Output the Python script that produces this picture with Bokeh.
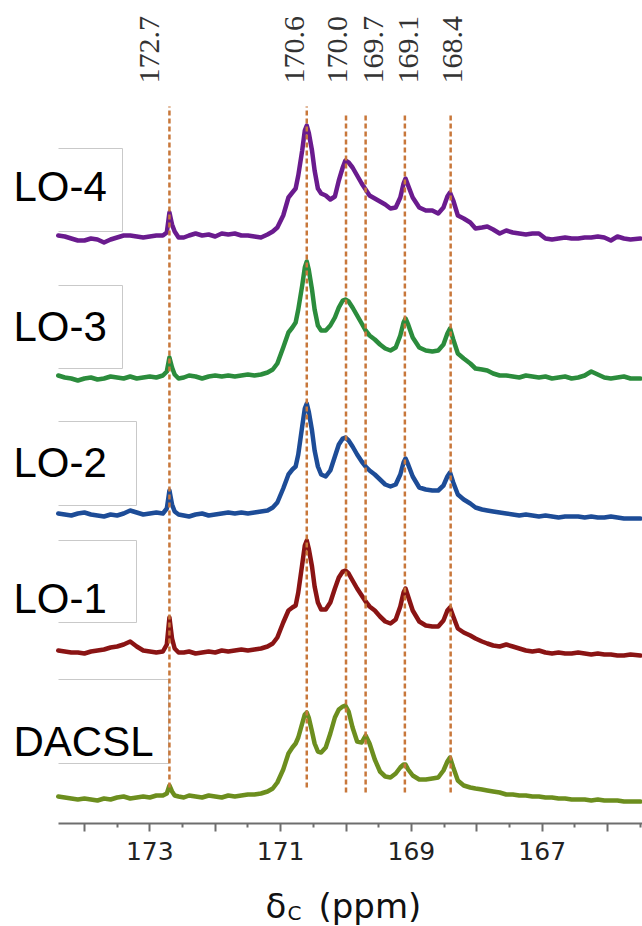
import numpy as np
from bokeh.plotting import figure
from bokeh.layouts import column
from bokeh.models import ColumnDataSource, FixedTicker, Range1d
from bokeh.embed import file_html
from bokeh.resources import INLINE
from bokeh.core.properties import value

# ---------------- data ----------------
peak_ppm = [172.7, 170.6, 170.0, 169.7, 169.1, 168.4]
peak_text = ["172.7", "170.6", "170.0", "169.7", "169.1", "168.4"]
sample_names = ["LO-4", "LO-3", "LO-2", "LO-1", "DACSL"]

ppm = [174.40, 174.30, 174.20, 174.10, 174.00, 173.90, 173.80, 173.70, 173.60, 173.50,
       173.40, 173.30, 173.20, 173.10, 173.00, 172.90, 172.80, 172.74, 172.70, 172.66,
       172.62, 172.56, 172.48, 172.40, 172.30, 172.20, 172.10, 172.00, 171.90, 171.80,
       171.70, 171.60, 171.50, 171.40, 171.30, 171.20, 171.12, 171.05, 170.96, 170.88,
       170.82, 170.77, 170.73, 170.67, 170.63, 170.60, 170.57, 170.52, 170.48, 170.43,
       170.38, 170.31, 170.24, 170.17, 170.11, 170.05, 170.01, 169.96, 169.90, 169.83,
       169.76, 169.70, 169.64, 169.56, 169.48, 169.40, 169.32, 169.24, 169.17, 169.12,
       169.09, 169.05, 168.98, 168.88, 168.78, 168.68, 168.59, 168.51, 168.45, 168.41,
       168.36, 168.29, 168.20, 168.10, 168.02, 167.92, 167.84, 167.75, 167.65, 167.55,
       167.45, 167.35, 167.25, 167.15, 167.05, 166.95, 166.85, 166.75, 166.65, 166.55,
       166.45, 166.35, 166.25, 166.15, 166.05, 165.95, 165.85, 165.75, 165.65, 165.50]

lo4 = [1, 0, -2, -4, -4, -2, -3, -6, -3, -1,
       1, 1, 0, -1, 0, 1, 1, 4, 24, 12,
       5, -1, -1, 1, 3, 1, 2, 0, 3, 2,
       3, 1, 1, 0, -1, 2, 5, 9, 21, 39,
       44, 48, 61, 86, 106, 111, 104, 86, 66, 48,
       43, 41, 37, 40, 56, 69, 76, 74, 69, 61,
       53, 47, 41, 38, 35, 32, 28, 29, 39, 53,
       58, 51, 39, 29, 26, 26, 23, 29, 40, 44,
       36, 21, 18, 14, 8, 9, 10, 7, 3, 6,
       4, 3, 2, 3, 3, -2, -3, -2, -1, -2,
       -2, -1, -1, 0, -1, -4, 0, -2, -3, -2]
lo3 = [2, 0, -1, -3, -1, 0, -2, -1, 1, 0,
       -1, 1, -1, 0, 1, 0, 2, 6, 20, 10,
       3, -1, 0, 2, 1, -1, 1, 2, 1, 2,
       1, 2, 3, 2, 3, 5, 8, 14, 30, 45,
       50, 55, 68, 92, 110, 116, 108, 88, 68, 52,
       47, 47, 52, 60, 70, 77, 78, 76, 70, 62,
       54, 47, 42, 38, 33, 29, 27, 30, 42, 55,
       59, 53, 40, 30, 27, 26, 27, 33, 44, 49,
       38, 24, 19, 14, 9, 8, 7, 4, 2, 2,
       1, 0, 2, 1, 0, 1, -1, 0, 1, -1,
       0, 2, 6, 3, 0, -1, 0, 1, -1, -1]
lo2 = [1, 0, -1, 1, 2, 0, -1, -2, 0, -1,
       1, 4, 2, 0, 1, 2, 1, 6, 24, 10,
       3, 0, -1, -2, 0, 1, -1, 0, 1, 2,
       1, 2, 1, 2, 3, 4, 7, 12, 26, 40,
       45, 48, 60, 88, 106, 111, 103, 84, 64, 48,
       40, 38, 44, 58, 70, 76, 77, 74, 68, 60,
       53, 48, 44, 40, 35, 30, 28, 30, 40, 52,
       56, 50, 38, 27, 25, 24, 24, 29, 38, 42,
       32, 20, 15, 11, 7, 5, 4, 3, 2, 1,
       0, -1, 0, -1, -2, -1, -2, -3, -2, -2,
       -2, -3, -2, -3, -3, -2, -3, -4, -4, -4]
lo1 = [2, 1, 0, 0, -1, 1, 2, 3, 5, 6,
       8, 11, 6, 2, 1, 0, 1, 8, 35, 14,
       4, 0, 0, 1, -1, 0, 1, 0, 2, 1,
       2, 3, 2, 3, 4, 6, 9, 15, 30, 42,
       45, 47, 60, 88, 107, 112, 104, 86, 66, 50,
       43, 43, 50, 64, 75, 81, 82, 79, 72, 64,
       57, 51, 46, 42, 36, 31, 29, 33, 46, 60,
       64, 56, 42, 31, 27, 26, 26, 32, 42, 45,
       36, 24, 20, 17, 14, 11, 9, 7, 6, 8,
       6, 4, 2, 1, 2, 0, -1, 0, -1, -1,
       0, -1, -2, -1, -2, -2, -3, -3, -2, -3]
dacsl = [1, 0, -1, -2, -1, -2, -3, -1, -2, 0,
         1, -1, 0, 1, 0, 2, 2, 4, 12, 6,
         2, 1, 0, 2, 1, 0, 2, 1, 0, 2,
         1, 2, 3, 3, 4, 6, 9, 15, 28, 44,
         50, 54, 60, 74, 83, 85, 80, 66, 54, 46,
         45, 50, 64, 80, 88, 91, 92, 86, 70, 56,
         55, 62, 54, 38, 26, 21, 20, 24, 30, 33,
         33, 28, 22, 18, 18, 19, 20, 27, 36, 40,
         30, 17, 12, 10, 9, 8, 7, 6, 5, 3,
         3, 2, 2, 1, 1, 0, 0, -1, -1, -2,
         -2, -2, -3, -2, -3, -3, -3, -4, -4, -4]
intensities = [lo4, lo3, lo2, lo1, dacsl]
baselines = [587, 446, 309, 171, 26]          # vertical stacking offsets
x_ticks = [166, 167, 168, 169, 170, 171, 172, 173, 174]
x_tick_labels = ["", "167", "", "169", "", "171", "", "173", ""]

# ---------------- layout helpers ----------------
PX_PER_PPM = 65.4
X_LEFT = 175.283            # ppm at the left edge of the canvas
X_RIGHT = X_LEFT - 642 / PX_PER_PPM
FRAME_H = 823
TOP_H = 880
TITLE_H = 926 - TOP_H


def px2ppm(px):
    return X_LEFT - px / PX_PER_PPM


def py2y(py):
    return FRAME_H - py


colors = ["#6a1b8e", "#2b8c3c", "#1d4c97", "#8a1414", "#6c8e1e"]
dash_color = "#c8773a"

xr = Range1d(X_LEFT, X_RIGHT)
p = figure(width=642, height=TOP_H, output_backend="svg", toolbar_location=None,
           x_range=xr, y_range=Range1d(0, FRAME_H),
           min_border_left=0, min_border_right=0, min_border_top=0,
           min_border_bottom=TOP_H - FRAME_H, y_axis_location=None)
p.outline_line_color = None
p.grid.visible = False

# boxes behind the sample names (top, right, bottom edges)
boxes = [(58, 148, 122, 231), (58, 285, 122, 368), (58, 421, 136, 505),
         (58, 540, 136, 622), (58, 679, 168, 763)]
xs, ys = [], []
for (l, tp, r, b) in boxes:
    xs.append([px2ppm(l), px2ppm(r), px2ppm(r), px2ppm(l)])
    ys.append([py2y(tp), py2y(tp), py2y(b), py2y(b)])
p.multi_line(xs, ys, line_color="#c9c9c9", line_width=1)

name_center_px = [186, 326, 462, 598, 741]
p.text(x=[px2ppm(13)] * 5, y=[py2y(v) for v in name_center_px], text=sample_names,
       text_font=value("Liberation Sans"), text_font_size="42px", text_color="#000000",
       text_align="left", text_baseline="middle")

# spectra
for inten, base, col in zip(intensities, baselines, colors):
    src = ColumnDataSource(dict(x=ppm, y=[base + v for v in inten]))
    p.line("x", "y", source=src, line_color=col, line_width=4.5, line_join="round",
           line_cap="round")

# dashed reference lines
line_top_px = [106, 106, 115, 115, 115, 115]
line_bot_px = [787, 787, 792, 792, 792, 792]
p.segment(x0=peak_ppm, x1=peak_ppm, y0=[py2y(v) for v in line_bot_px],
          y1=[py2y(v) for v in line_top_px], line_color=dash_color, line_width=2.5,
          line_dash="5 3")

# rotated peak labels
p.text(x=peak_ppm, y=[py2y(83)] * 6, text=peak_text, angle=np.pi / 2,
       x_offset=[-20, -12, -9, 8, 4, 2],
       text_font=value("Liberation Serif"), text_font_size="30px", text_color="#333333",
       text_align="left", text_baseline="middle")

# x axis
ax = p.xaxis[0]
ax.bounds = (X_RIGHT, px2ppm(58))
ax.ticker = FixedTicker(ticks=x_ticks, minor_ticks=[v + 0.5 for v in range(165, 174)])
ax.major_label_overrides = {tk: s for tk, s in zip(x_ticks, x_tick_labels)}
ax.axis_line_color = "#6e6e6e"
ax.axis_line_width = 2
ax.major_tick_line_color = "#6e6e6e"
ax.minor_tick_line_color = "#6e6e6e"
ax.major_tick_line_width = 2
ax.minor_tick_line_width = 2
ax.major_tick_in = 0
ax.major_tick_out = 8
ax.minor_tick_in = 0
ax.minor_tick_out = 4
ax.major_label_text_font = "DejaVu Sans"
ax.major_label_text_font_size = "25px"
ax.major_label_text_color = "#222222"
ax.major_label_standoff = 10

# axis title  δC (ppm)  drawn in a thin strip below
t = figure(width=642, height=TITLE_H, output_backend="svg", toolbar_location=None,
           x_range=xr, y_range=Range1d(0, TITLE_H),
           min_border_left=0, min_border_right=0, min_border_top=0, min_border_bottom=0,
           x_axis_location=None, y_axis_location=None)
t.outline_line_color = None
t.grid.visible = False


def ty(py):
    return TITLE_H - (py - TOP_H)


t.text(x=[px2ppm(265), px2ppm(318)], y=[ty(905), ty(905)], text=["δ", "(ppm)"],
       text_font=value("DejaVu Sans"), text_font_size="34px", text_color="#111111",
       text_align="left", text_baseline="middle")
t.text(x=[px2ppm(287)], y=[ty(912)], text=["C"],
       text_font=value("DejaVu Sans"), text_font_size="20px", text_color="#111111",
       text_align="left", text_baseline="middle")

layout = column(p, t, spacing=0)
open("out.html", "w").write(file_html(layout, INLINE))
